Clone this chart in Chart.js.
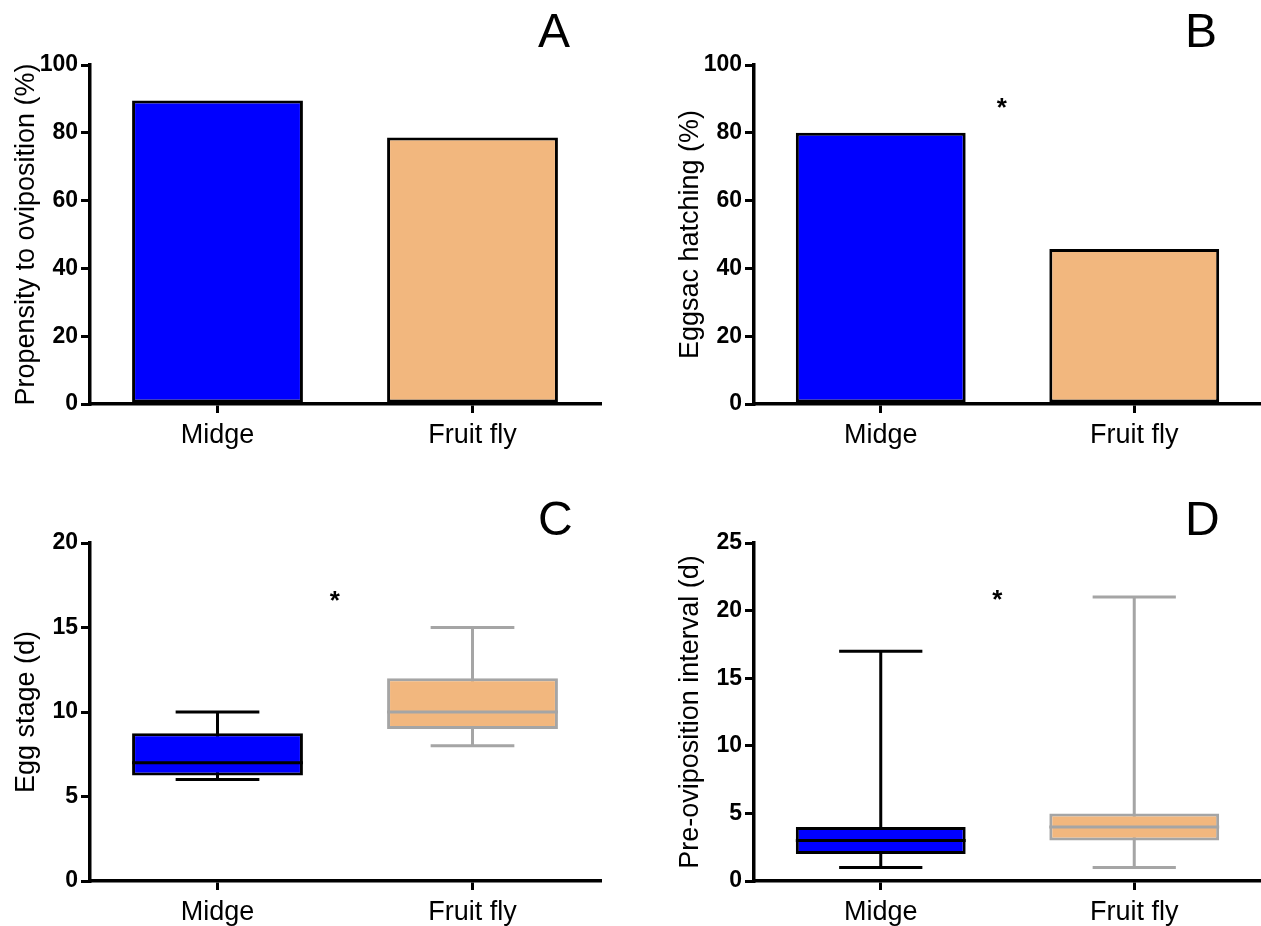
<!DOCTYPE html>
<html>
<head>
<meta charset="utf-8">
<script src="https://cdn.jsdelivr.net/npm/chart.js@4.4.1/dist/chart.umd.min.js"></script>
<style>
	body { margin: 0; background: #fff; width: 1261px; height: 926px; overflow: hidden; position: relative; }
	canvas { position: absolute; }
	.letter { position: absolute; font-family: "Liberation Sans", Arial, sans-serif; font-size: 48px; line-height: 1; color: #000; }
</style>
</head>
<body>
<canvas id="chartA" width="630" height="463" style="left:0;top:0"></canvas>
<canvas id="chartB" width="631" height="463" style="left:630px;top:0"></canvas>
<canvas id="chartC" width="630" height="463" style="left:0;top:463px"></canvas>
<canvas id="chartD" width="631" height="463" style="left:630px;top:463px"></canvas>
<div class="letter" style="left:538px;top:7px">A</div>
<div class="letter" style="left:1185px;top:7px">B</div>
<div class="letter" style="left:538px;top:495px">C</div>
<div class="letter" style="left:1185px;top:495px">D</div>
<script>
const categories = ["Midge", "Fruit fly"];

// A, B: percentages
const ovipositionPct = [89.5, 78.6];
const hatchingPct = [80, 45.7];

// C: egg stage (d)
const eggMin = [6, 8];
const eggQ1 = [6.25, 9];
const eggMedian = [7, 10];
const eggQ3 = [8.75, 12];
const eggMax = [10, 15];

// D: pre-oviposition interval (d)
const preMin = [1, 1];
const preQ1 = [2, 3];
const preMedian = [3, 4];
const preQ3 = [4, 5];
const preMax = [17, 21];

const FONT = "'Liberation Sans', Arial, sans-serif";
const fillColors = ["#0000FF", "#F2B77E"];
const edgeColors = ["#000000", "#A5A5A5"];

function yScale(max, step, title, yw, titlePad) {
	return {
		min: 0,
		max: max,
		ticks: { stepSize: step, color: "#000", font: { family: FONT, size: 23, weight: "bold" }, padding: 3 },
		grid: { drawOnChartArea: false, color: "#000", lineWidth: 3, tickLength: 9 },
		border: { color: "#000", width: 3.5 },
		title: { display: true, text: title, color: "#000", font: { family: FONT, size: 27 }, padding: { top: titlePad, bottom: 0 } },
		afterFit: s => { s.width = yw; }
	};
}

function xScale(h) {
	return {
		offset: true,
		ticks: { color: "#000", font: { family: FONT, size: 27 }, padding: 6 },
		grid: { drawOnChartArea: false, offset: false, color: "#000", lineWidth: 3, tickLength: 9 },
		border: { color: "#000", width: 3.5 },
		afterFit: s => { s.height = h; }
	};
}

// whiskers + medians drawn from the chart's own scales
function boxPlugin(mins, maxs, medians) {
	return {
		id: "boxWhiskers",
		beforeDatasetsDraw(chart) {
			const ctx = chart.ctx;
			const y = chart.scales.y;
			const bars = chart.getDatasetMeta(0).data;
			ctx.save();
			ctx.lineWidth = 3;
			bars.forEach((bar, i) => {
				const half = bar.width * 0.245;
				const yMin = y.getPixelForValue(mins[i]);
				const yMax = y.getPixelForValue(maxs[i]);
				ctx.strokeStyle = edgeColors[i];
				ctx.beginPath();
				ctx.moveTo(bar.x, yMin);
				ctx.lineTo(bar.x, yMax);
				ctx.moveTo(bar.x - half, yMin);
				ctx.lineTo(bar.x + half, yMin);
				ctx.moveTo(bar.x - half, yMax);
				ctx.lineTo(bar.x + half, yMax);
				ctx.stroke();
			});
			ctx.restore();
		},
		afterDatasetsDraw(chart) {
			const ctx = chart.ctx;
			const y = chart.scales.y;
			const bars = chart.getDatasetMeta(0).data;
			ctx.save();
			ctx.lineWidth = 3;
			bars.forEach((bar, i) => {
				const yMed = y.getPixelForValue(medians[i]);
				ctx.strokeStyle = edgeColors[i];
				ctx.beginPath();
				ctx.moveTo(bar.x - bar.width / 2, yMed);
				ctx.lineTo(bar.x + bar.width / 2, yMed);
				ctx.stroke();
			});
			ctx.restore();
		}
	};
}

function starPlugin(xIndex, yValue) {
	return {
		id: "star",
		afterDraw(chart) {
			const ctx = chart.ctx;
			const px = chart.scales.x.getPixelForValue(xIndex);
			const py = chart.scales.y.getPixelForValue(yValue);
			ctx.save();
			ctx.fillStyle = "#000";
			ctx.font = "bold 26px " + FONT;
			ctx.textAlign = "center";
			ctx.textBaseline = "alphabetic";
			ctx.fillText("*", px, py + 15);
			ctx.restore();
		}
	};
}

function baseOptions(scales, pad) {
	return {
		responsive: false,
		devicePixelRatio: 1,
		animation: false,
		layout: { padding: pad },
		plugins: { legend: { display: false }, tooltip: { enabled: false } },
		scales: scales
	};
}

function barSet(values, edge) {
	return {
		data: values,
		backgroundColor: fillColors,
		borderColor: edge,
		borderWidth: 3,
		borderSkipped: false,
		barPercentage: 0.67,
		categoryPercentage: 1
	};
}

var chartA = new Chart("chartA", {
	type: "bar",
	data: { labels: categories, datasets: [barSet(ovipositionPct, "#000")] },
	options: baseOptions({
		x: xScale(59),
		y: yScale(100, 20, "Propensity to oviposition (%)", 90, 10)
	}, { top: 65, right: 30, left: 0, bottom: 0 })
});

var chartB = new Chart("chartB", {
	type: "bar",
	data: { labels: categories, datasets: [barSet(hatchingPct, "#000")] },
	options: baseOptions({
		x: xScale(59),
		y: yScale(100, 20, "Eggsac hatching (%)", 124, 44)
	}, { top: 65, right: 0, left: 0, bottom: 0 }),
	plugins: [starPlugin(0.478, 89.4)]
});

var chartC = new Chart("chartC", {
	type: "bar",
	data: { labels: categories, datasets: [barSet(eggQ1.map((q, i) => [q, eggQ3[i]]), edgeColors)] },
	options: baseOptions({
		x: xScale(45),
		y: yScale(20, 5, "Egg stage (d)", 90, 10)
	}, { top: 80, right: 30, left: 0, bottom: 0 }),
	plugins: [boxPlugin(eggMin, eggMax, eggMedian), starPlugin(0.46, 17)]
});

var chartD = new Chart("chartD", {
	type: "bar",
	data: { labels: categories, datasets: [barSet(preQ1.map((q, i) => [q, preQ3[i]]), edgeColors)] },
	options: baseOptions({
		x: xScale(45),
		y: yScale(25, 5, "Pre-oviposition interval (d)", 124, 44)
	}, { top: 80, right: 0, left: 0, bottom: 0 }),
	plugins: [boxPlugin(preMin, preMax, preMedian), starPlugin(0.46, 21.3)]
});
</script>
</body>
</html>
